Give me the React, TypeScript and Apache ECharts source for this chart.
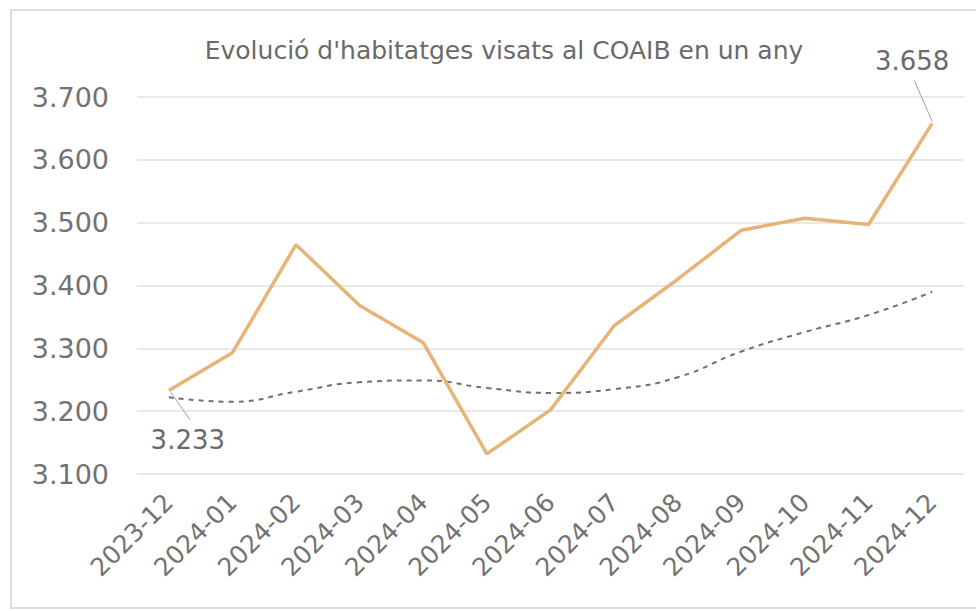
import React, { useEffect, useRef } from "react";
import * as echarts from "echarts";

const categories = [
  "2023-12", "2024-01", "2024-02", "2024-03", "2024-04", "2024-05", "2024-06",
  "2024-07", "2024-08", "2024-09", "2024-10", "2024-11", "2024-12",
];
const visats = [3233, 3293, 3465, 3368, 3309, 3132, 3202, 3336, 3410, 3488, 3507, 3497, 3658];
const trend = [3222, 3215, 3231, 3246, 3249, 3237, 3229, 3235, 3254, 3295, 3326, 3353, 3390];
const yTicks = { min: 3100, max: 3700, interval: 100 };
const titleText = "Evolució d'habitatges visats al COAIB en un any";

const fmt = (v: number) => {
  const s = String(Math.round(v));
  return s.length > 3 ? s.slice(0, s.length - 3) + "." + s.slice(-3) : s;
};

const FONT = "'DejaVu Sans', sans-serif";

export default function App() {
  const ref = useRef<HTMLDivElement>(null);
  useEffect(() => {
    if (!ref.current) return;
    const chart = echarts.init(ref.current, undefined, { renderer: "svg" });
    chart.setOption({
      animation: false,
      backgroundColor: "#fff",
      title: {
        text: titleText,
        left: 499,
        textAlign: "center",
        top: 33,
        textStyle: { fontFamily: FONT, fontWeight: "normal", fontSize: 25, color: "#6a6a6a" },
      },
      grid: { left: 137, right: 12, top: 97, bottom: 137 },
      xAxis: {
        type: "category",
        data: categories,
        boundaryGap: true,
        axisLine: { show: false },
        axisTick: { show: false },
        axisLabel: {
          rotate: 45,
          interval: 0,
          margin: 24,
          fontFamily: FONT,
          fontSize: 25,
          color: "#727272",
        },
      },
      yAxis: {
        type: "value",
        min: yTicks.min,
        max: yTicks.max,
        interval: yTicks.interval,
        axisLine: { show: false },
        axisTick: { show: false },
        splitLine: { lineStyle: { color: "#e2e2e2", width: 1.5 } },
        axisLabel: {
          formatter: fmt,
          margin: 28,
          fontFamily: FONT,
          fontSize: 27,
          color: "#727272",
        },
      },
      series: [
        {
          type: "line",
          data: trend,
          smooth: true,
          showSymbol: false,
          lineStyle: { color: "#707070", width: 2, type: [5, 5] },
          z: 2,
        },
        {
          type: "line",
          data: visats,
          showSymbol: false,
          lineStyle: { color: "#E6B477", width: 3.5 },
          z: 3,
        },
      ],
    });

    const p0 = chart.convertToPixel({ seriesIndex: 1 }, [0, visats[0]]) as number[];
    const last = visats.length - 1;
    const p1 = chart.convertToPixel({ seriesIndex: 1 }, [last, visats[last]]) as number[];
    const textStyle = { fontFamily: FONT, fontSize: 26, fill: "#6a6a6a" };
    chart.setOption({
      graphic: [
        {
          type: "rect",
          shape: { x: 11, y: 10, width: 990, height: 598 },
          style: { fill: "none", stroke: "#dcdcdc", lineWidth: 2 },
          silent: true,
        },
        {
          type: "line",
          shape: { x1: p0[0] + 2, y1: p0[1] + 2, x2: p0[0] + 21, y2: p0[1] + 29 },
          style: { stroke: "#a0a0a0", lineWidth: 1 },
        },
        {
          type: "text",
          x: p0[0] + 19,
          y: p0[1] + 50,
          style: { ...textStyle, text: fmt(visats[0]), align: "center", verticalAlign: "middle" },
        },
        {
          type: "line",
          shape: { x1: p1[0] - 18, y1: p1[1] - 43, x2: p1[0], y2: p1[1] - 2 },
          style: { stroke: "#a0a0a0", lineWidth: 1 },
        },
        {
          type: "text",
          x: p1[0] - 20,
          y: p1[1] - 62,
          style: { ...textStyle, text: fmt(visats[last]), align: "center", verticalAlign: "middle" },
        },
      ],
    });
    return () => chart.dispose();
  }, []);
  return (
    <div
      ref={ref}
      style={{ position: "absolute", left: 0, top: 0, width: 976, height: 611 }}
    />
  );
}
